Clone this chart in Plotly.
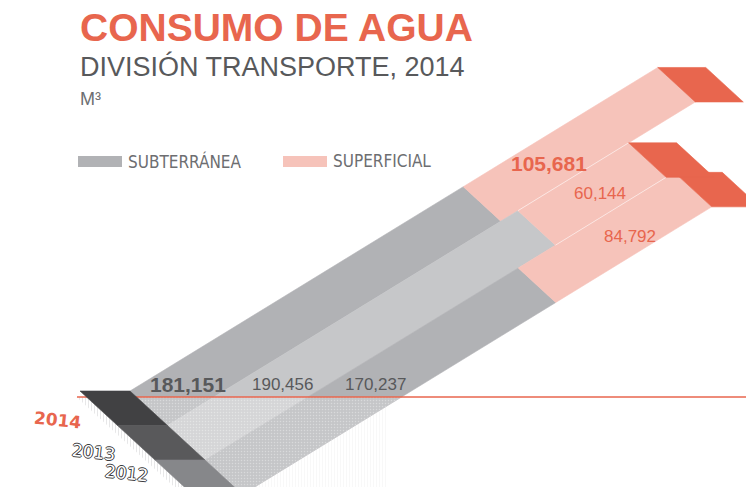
import plotly.graph_objects as go

# ---- data (m³) ----
years = ["2014", "2013", "2012"]
subterranea = [181151, 190456, 170237]
superficial = [105681, 60144, 84792]
series_names = ["SUBTERRÁNEA", "SUPERFICIAL"]

# ---- oblique ribbon projection (page pixels) ----
W_PX, H_PX = 746, 487
ORIGIN = (130.0, 391.0)   # top corner where the first ribbon starts
STEP = (37.5, 34.5)       # one ribbon width, stepping down-right
SLOPE = -0.613            # vertical change per px of run along a ribbon
SCALE = 0.00184           # px of horizontal run per m³
FRONT_CAP = 50.0
END_CAP = 48.0
BASELINE_Y = 397.0
SHADOW_X = 387.0

RED = "#e8664e"
PINK = "#f6c3ba"
GREY = ["#b1b2b5", "#c6c7c9", "#b1b2b5"]
FRONT = ["#414143", "#59595b", "#86878a"]
TEXT_DARK = "#58595b"
TEXT_MID = "#6d6e71"


def pt(i, u, w):
    """Screen point on ribbon i, at value u along it and fraction w across it."""
    x = ORIGIN[0] + (i + w) * STEP[0] + u * SCALE
    y = ORIGIN[1] + (i + w) * STEP[1] + u * SCALE * SLOPE
    return x, y


def x_at(i, w, y):
    bx, by = pt(i, 0, w)
    return bx + (y - by) / SLOPE


def y_at(i, w, x):
    bx, by = pt(i, 0, w)
    return by + (x - bx) * SLOPE


def shift(p, dx):
    return p[0] + dx, p[1]


def poly(points, color, line_color=None, pattern=None):
    xs = [p[0] for p in points] + [points[0][0]]
    ys = [p[1] for p in points] + [points[0][1]]
    kw = dict(
        x=xs, y=ys, mode="lines", fill="toself", fillcolor=color,
        line=dict(width=0.6 if line_color else 0, color=line_color or color),
        hoverinfo="skip", showlegend=False,
    )
    if pattern:
        kw["fillpattern"] = pattern
    return go.Scatter(**kw)


fig = go.Figure()
n = len(years)
totals = [s + f for s, f in zip(subterranea, superficial)]

# hatched shadow along the left side of the front faces
w_top = (BASELINE_Y - ORIGIN[1]) / STEP[1]
edge_top = shift(pt(0, 0, w_top), -FRONT_CAP)
edge_bot = shift(pt(0, 0, n), -FRONT_CAP)
fig.add_trace(poly([edge_top, edge_bot, shift(edge_bot, -10), shift(edge_top, -10)],
                   "white",
                   pattern=dict(shape="|", fgcolor="#cfcfd1", bgcolor="white",
                                size=3, solidity=0.35)))

# faint hatched shadow to the right of the last ribbon
sh_pts = [(SHADOW_X, y_at(n - 1, 1, SHADOW_X)), (SHADOW_X, H_PX),
          (x_at(n - 1, 1, H_PX), H_PX)]
fig.add_trace(poly(sh_pts, "white",
                   pattern=dict(shape="|", fgcolor="#f0f0f1", bgcolor="white",
                                size=3, solidity=0.3)))

# ribbons: groundwater then surface water
for i in range(n):
    g, t = subterranea[i], totals[i]
    fig.add_trace(poly([pt(i, 0, 0), pt(i, g, 0), pt(i, g, 1), pt(i, 0, 1)], GREY[i], GREY[i]))
    fig.add_trace(poly([pt(i, g, 0), pt(i, t, 0), pt(i, t, 1), pt(i, g, 1)], PINK, PINK))

# thin seams between neighbouring surface-water sections
for i in range(n - 1):
    u0 = max(subterranea[i], subterranea[i + 1])
    u1 = min(totals[i], totals[i + 1])
    a, b = pt(i, u0, 1), pt(i, u1, 1)
    fig.add_trace(go.Scatter(x=[a[0], b[0]], y=[a[1], b[1]], mode="lines",
                             line=dict(color="rgba(255,255,255,0.7)", width=0.8),
                             hoverinfo="skip", showlegend=False))

# red end caps
for i in [2, 1, 0]:
    t = totals[i]
    a, b = pt(i, t, 0), pt(i, t, 1)
    fig.add_trace(poly([a, shift(a, END_CAP), shift(b, END_CAP), b], RED, RED))

# lighter dotted floor below the baseline
floor = [pt(0, 0, w_top), (x_at(n - 1, 1, BASELINE_Y), BASELINE_Y),
         (x_at(n - 1, 1, H_PX), H_PX), pt(0, 0, (H_PX - ORIGIN[1]) / STEP[1])]
fig.add_trace(poly(floor, "rgba(255,255,255,0.26)",
                   pattern=dict(shape=".", fgcolor="rgba(255,255,255,0.35)",
                                bgcolor="rgba(255,255,255,0.26)", size=3,
                                solidity=0.2, fillmode="replace")))

# baseline
fig.add_trace(go.Scatter(x=[77, W_PX], y=[BASELINE_Y, BASELINE_Y], mode="lines",
                         line=dict(color=RED, width=1.6), hoverinfo="skip",
                         showlegend=False))

# dark front faces
for i in range(n):
    a, b = pt(i, 0, 0), pt(i, 0, 1)
    fig.add_trace(poly([shift(a, -FRONT_CAP), a, b, shift(b, -FRONT_CAP)], FRONT[i], FRONT[i]))

ann = []
SANS = "Liberation Sans, Arial, Helvetica, sans-serif"

# value labels for groundwater, just above the baseline
g_style = [dict(size=21, weight="bold"), dict(size=17), dict(size=17)]
for i in range(n):
    y = 384
    ann.append(dict(x=x_at(i, 0.5, y), y=y, text=f"{subterranea[i]:,}",
                    font=dict(family=SANS, color=TEXT_DARK, **g_style[i])))

# value labels for surface water
s_y = [163, 193.5, 236]
s_w = [0.5, 0.58, 0.63]
s_style = [dict(size=21, weight="bold"), dict(size=17), dict(size=17)]
for i in range(n):
    ann.append(dict(x=x_at(i, s_w[i], s_y[i]), y=s_y[i], text=f"{superficial[i]:,}",
                    font=dict(family=SANS, color=RED, **s_style[i])))

# year labels beside the front faces
outline = "#3c3c3e"
halo = ", ".join(f"{dx}px {dy}px 0 {outline}" for dx, dy in
                 [(1, 0), (-1, 0), (0, 1), (0, -1)])
year_pos = [(57, 420), (93, 452), (126, 473)]
for i, yr in enumerate(years):
    if i == 0:
        f = dict(family="DejaVu Sans, sans-serif", size=17, color=RED, weight="bold")
    else:
        f = dict(family="DejaVu Sans, sans-serif", size=17, color="white", shadow=halo)
    ann.append(dict(x=year_pos[i][0], y=year_pos[i][1], text=yr, textangle=6, font=f))

# titles
ann += [
    dict(x=78, y=27, xanchor="left", text="CONSUMO DE AGUA",
         font=dict(family=SANS, size=39, color=RED, weight="bold")),
    dict(x=78, y=66, xanchor="left", text="DIVISIÓN TRANSPORTE, 2014",
         font=dict(family=SANS, size=27, color=TEXT_DARK)),
    dict(x=78, y=99, xanchor="left", text="M³",
         font=dict(family=SANS, size=18, color=TEXT_MID)),
]

# legend
NARROW = "Liberation Sans Narrow, DejaVu Sans Condensed, Arial Narrow, sans-serif"
shapes = []
legend_items = [(78, GREY[0], series_names[0]), (283, PINK, series_names[1])]
for x0, col, name in legend_items:
    shapes.append(dict(type="rect", x0=x0, x1=x0 + 44, y0=156, y1=167,
                       fillcolor=col, line=dict(width=0), layer="above"))
    ann.append(dict(x=x0 + 48, y=161, xanchor="left", text=name,
                    font=dict(family=NARROW, size=17, color=TEXT_MID)))

for a in ann:
    a.setdefault("showarrow", False)
    a.setdefault("xref", "x")
    a.setdefault("yref", "y")

fig.update_layout(
    width=W_PX, height=H_PX,
    margin=dict(l=0, r=0, t=0, b=0),
    paper_bgcolor="white", plot_bgcolor="white",
    xaxis=dict(range=[0, W_PX], visible=False, fixedrange=True),
    yaxis=dict(range=[H_PX, 0], visible=False, fixedrange=True),
    showlegend=False, hovermode=False,
    annotations=ann, shapes=shapes,
)

fig.write_html("out.html", config=dict(displayModeBar=False))
